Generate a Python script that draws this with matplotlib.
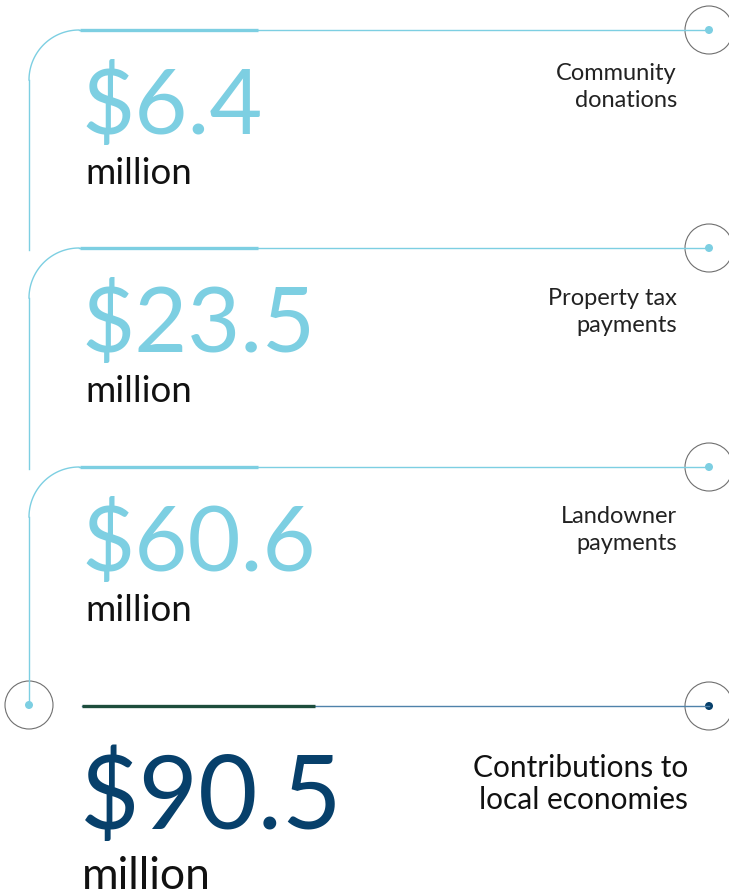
import numpy as np
import matplotlib.pyplot as plt
from matplotlib.patches import Circle

# data
amounts = ["$6.4", "$23.5", "$60.6", "$90.5"]
units = ["million", "million", "million", "million"]
labels = ["Community\ndonations", "Property tax\npayments", "Landowner\npayments",
          "Contributions to\nlocal economies"]

light = "#7dcfe2"
navy = "#07406b"
green = "#1d4d3c"
steel = "#4f82aa"
grey = "#6f6f6f"

plt.rcParams["font.family"] = ["Lato", "DejaVu Sans"]

fig = plt.figure(figsize=(7.29, 8.90), dpi=100)
ax = fig.add_axes([0, 0, 1, 1])
ax.set_xlim(0, 729)
ax.set_ylim(890, 0)
ax.axis("off")

row_y = [30, 248, 467]
label_y = [87, 312, 530]
x_left = 29
r = 50
x_end = 709

def ring(x, y, dot):
    ax.add_patch(Circle((x, y), 24, fill=False, ec=grey, lw=0.8))
    ax.add_patch(Circle((x, y), 4, color=dot, lw=0))

for i, y in enumerate(row_y):
    # rounded corner + vertical connector
    t = np.linspace(np.pi, 1.5 * np.pi, 40)
    ax.plot(x_left + r + r * np.cos(t), y + r + r * np.sin(t), color=light, lw=1.0)
    y_next = row_y[i + 1] + 2 if i + 1 < len(row_y) else 705
    ax.plot([x_left, x_left], [y + r, y_next], color=light, lw=1.0)
    ax.plot([x_left + r, x_end], [y, y], color=light, lw=1.0)
    ax.plot([80, 258], [y, y], color=light, lw=2.4, solid_capstyle="butt")
    ring(x_end, y, light)

    ax.text(81, y + 104, amounts[i], fontsize=66, color=light,
            va="baseline", ha="left")
    ax.text(85, y + 154, units[i], fontsize=26.5, color="#111111",
            va="baseline", ha="left")
    ax.text(677, label_y[i], labels[i], fontsize=17, color="#222222",
            va="center", ha="right", linespacing=1.3)

# bottom total row
yb = 706
ring(x_left, 705, light)
ax.plot([82, x_end], [yb, yb], color=steel, lw=1.0)
ax.plot([82, 315], [yb, yb], color=green, lw=2.4, solid_capstyle="butt")
ring(x_end, yb, navy)
ax.text(80, 829, amounts[3], fontsize=74, color=navy,
        va="baseline", ha="left")
ax.text(82, 889, units[3], fontsize=32, color="#111111",
        va="baseline", ha="left")
ax.text(688, 784, labels[3], fontsize=21.5, color="#111111",
        va="center", ha="right", linespacing=1.15)

fig.savefig("out.png", dpi=100)
